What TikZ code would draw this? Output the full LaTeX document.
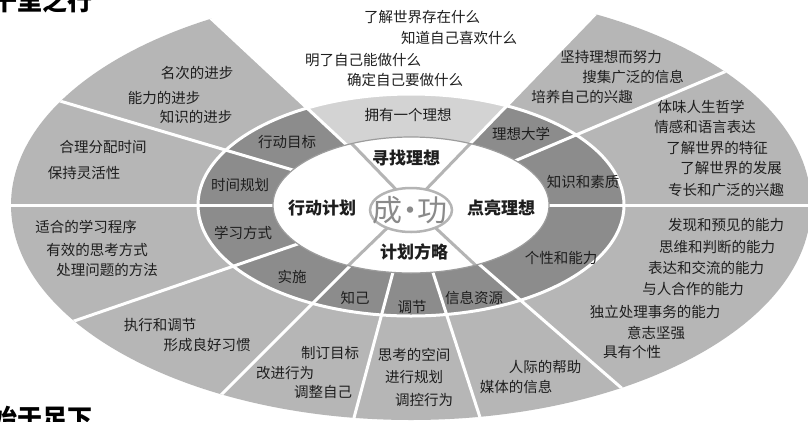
\documentclass[tikz,border=0pt]{standalone}
\usepackage{fontspec}
\setmainfont{Noto Sans CJK SC}
\definecolor{outergray}{HTML}{B6B6B6}
\definecolor{ringdark}{HTML}{8C8C8C}
\definecolor{ringlight}{HTML}{D3D3D3}
\definecolor{txt}{HTML}{1E1E1E}
\definecolor{linegray}{HTML}{B4B4B4}
\definecolor{rimgray}{HTML}{9C9C9C}
\definecolor{chenggong}{HTML}{8A8A8A}
\begin{document}
\begin{tikzpicture}[x=1pt,y=-1pt,
  outertxt/.style={font=\fontsize{14.5}{16}\selectfont, text=txt, inner sep=0pt},
  ringtxt/.style={font=\fontsize{14.5}{16}\selectfont, text=txt, inner sep=0pt},
  innertxt/.style={font=\bfseries\fontsize{17}{19}\selectfont, text=txt, inner sep=0pt},
  titletxt/.style={font=\bfseries\fontsize{25}{27}\selectfont, text=black, inner sep=0pt},
  cgtxt/.style={inner sep=0pt, text=chenggong, font=\fontsize{30}{32}\selectfont},
  sep/.style={white, line width=3pt},
  diag/.style={linegray, line width=3pt},
]
\path[use as bounding box] (0,0) rectangle (808,421);
\fill[white] (0,0) rectangle (808,421);
\coordinate (C) at (411,205);
% outer band (all sectors but the white top one)
\begin{scope}
  \clip (C) -- +(-46:900) -- +(0:900) -- +(90:900) -- +(180:900) -- +(-137:900) -- cycle;
  \fill[outergray] (C) ellipse [x radius=400, y radius=215];
\end{scope}
% middle ring
\fill[ringdark] (C) ellipse [x radius=213, y radius=111];
\begin{scope}
  \clip (C) ellipse [x radius=213, y radius=111];
  \fill[ringlight] (C) -- +(-137:900) -- +(-90:900) -- +(-46:900) -- cycle;
\end{scope}
% white separators
\begin{scope}
  \clip (C) ellipse [x radius=400, y radius=215];
  \foreach \a in {-137,-46,-23,0,41,72,105,135,161,180,-163.5}
    \draw[sep] (C) -- +(\a:900);
\end{scope}
\draw[sep] (C) ellipse [x radius=213, y radius=111];
% inner white ellipse
\fill[white] (C) ellipse [x radius=138, y radius=68];
\begin{scope}
  \clip (C) ellipse [x radius=138, y radius=68];
  \foreach \a in {-134,-46,136,43}
    \draw[diag] (C) -- +(\a:200);
\end{scope}
\draw[rimgray, line width=1.2pt] (C) ellipse [x radius=138, y radius=68];
% centre ellipse
\coordinate (K) at (411,210);
\filldraw[fill=white, draw=linegray, line width=2.5pt] (K) ellipse [x radius=41, y radius=22];
\node[cgtxt] (cg) at (410,210) {成\hspace{-7.5pt}·\hspace{-7.5pt}功};

% inner labels
\node[innertxt] (i1) at (406,158) {寻找理想};
\node[innertxt] (i2) at (501,208) {点亮理想};
\node[innertxt] (i3) at (414,252) {计划方略};
\node[innertxt] (i4) at (322,208) {行动计划};

% ring labels
\node[ringtxt] (r1) at (408,115) {拥有一个理想};
\node[ringtxt] (r2) at (521,134) {理想大学};
\node[ringtxt] (r3) at (583,182) {知识和素质};
\node[ringtxt] (r4) at (561,258) {个性和能力};
\node[ringtxt] (r5) at (474,298) {信息资源};
\node[ringtxt] (r6) at (412,307) {调节};
\node[ringtxt] (r7) at (355,298) {知己};
\node[ringtxt] (r8) at (292,277) {实施};
\node[ringtxt] (r9) at (243,233) {学习方式};
\node[ringtxt] (r10) at (240,185) {时间规划};
\node[ringtxt] (r11) at (287,142) {行动目标};

% outer labels: top
\node[outertxt] (t1) at (422,17) {了解世界存在什么};
\node[outertxt] (t2) at (459,38) {知道自己喜欢什么};
\node[outertxt] (t3) at (363,60) {明了自己能做什么};
\node[outertxt] (t4) at (405,80) {确定自己要做什么};
% upper right
\node[outertxt] (u1) at (611,57) {坚持理想而努力};
\node[outertxt] (u2) at (633,77) {搜集广泛的信息};
\node[outertxt] (u3) at (582,97) {培养自己的兴趣};
% right
\node[outertxt] (k1) at (701,107) {体味人生哲学};
\node[outertxt] (k2) at (705,127) {情感和语言表达};
\node[outertxt] (k3) at (717,148) {了解世界的特征};
\node[outertxt] (k4) at (731,168) {了解世界的发展};
\node[outertxt] (k5) at (726,190) {专长和广泛的兴趣};
% lower right
\node[outertxt] (g1) at (726,225) {发现和预见的能力};
\node[outertxt] (g2) at (717,247) {思维和判断的能力};
\node[outertxt] (g3) at (706,268) {表达和交流的能力};
\node[outertxt] (g4) at (693,289) {与人合作的能力};
\node[outertxt] (g5) at (655,312) {独立处理事务的能力};
\node[outertxt] (g6) at (656,333) {意志坚强};
\node[outertxt] (g7) at (632,352) {具有个性};
% bottom right
\node[outertxt] (x1) at (545,367) {人际的帮助};
\node[outertxt] (x2) at (516,387) {媒体的信息};
% bottom
\node[outertxt] (y1) at (414,355) {思考的空间};
\node[outertxt] (y2) at (414,377) {进行规划};
\node[outertxt] (y3) at (424,400) {调控行为};
% bottom left
\node[outertxt] (z1) at (330,353) {制订目标};
\node[outertxt] (z2) at (285,373) {改进行为};
\node[outertxt] (z3) at (323,392) {调整自己};
% left bottom
\node[outertxt] (l1) at (160,325) {执行和调节};
\node[outertxt] (l2) at (207,345) {形成良好习惯};
% left
\node[outertxt] (m1) at (86,227) {适合的学习程序};
\node[outertxt] (m2) at (97,250) {有效的思考方式};
\node[outertxt] (m3) at (107,270) {处理问题的方法};
\node[outertxt] (n1) at (103,147) {合理分配时间};
\node[outertxt] (n2) at (84,173) {保持灵活性};
% upper left
\node[outertxt] (p1) at (197,73) {名次的进步};
\node[outertxt] (p2) at (164,98) {能力的进步};
\node[outertxt] (p3) at (196,117) {知识的进步};

% titles, cropped by the picture's edge as in the reference
\begin{scope}
  \clip (0,0) rectangle (808,421);
  \node[titletxt] (title1) at (43,1) {千里之行};
  \node[titletxt] (title2) at (42,418) {始于足下};
\end{scope}
\end{tikzpicture}
\end{document}
